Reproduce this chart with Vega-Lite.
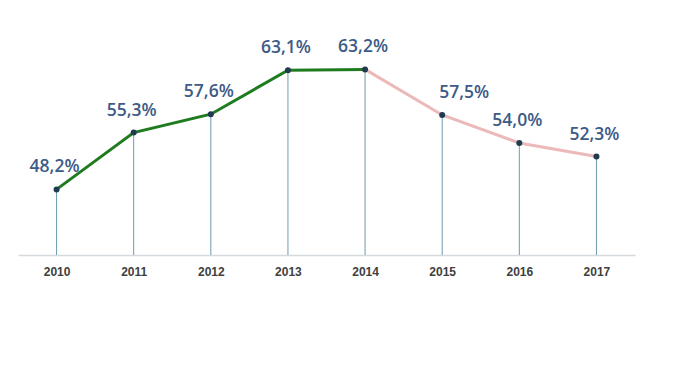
{
  "$schema": "https://vega.github.io/schema/vega-lite/v6.json",
  "autosize": "none",
  "width": 617,
  "height": 255,
  "padding": {"left": 18, "top": 0, "right": 65, "bottom": 129},
  "background": "white",
  "config": {
    "view": {"stroke": null},
    "locale": {"number": {"decimal": ",", "thousands": ".", "grouping": [3], "currency": ["", " €"]}}
  },
  "datasets": {
    "points": [
      {"year": "2010", "rate": 0.482},
      {"year": "2011", "rate": 0.553},
      {"year": "2012", "rate": 0.576},
      {"year": "2013", "rate": 0.631},
      {"year": "2014", "rate": 0.632},
      {"year": "2015", "rate": 0.575},
      {"year": "2016", "rate": 0.540},
      {"year": "2017", "rate": 0.523}
    ],
    "lines": [
      {"year": "2010", "rate": 0.482, "series": "actual"},
      {"year": "2011", "rate": 0.553, "series": "actual"},
      {"year": "2012", "rate": 0.576, "series": "actual"},
      {"year": "2013", "rate": 0.631, "series": "actual"},
      {"year": "2014", "rate": 0.632, "series": "actual"},
      {"year": "2014", "rate": 0.632, "series": "forecast"},
      {"year": "2015", "rate": 0.575, "series": "forecast"},
      {"year": "2016", "rate": 0.540, "series": "forecast"},
      {"year": "2017", "rate": 0.523, "series": "forecast"}
    ]
  },
  "encoding": {
    "x": {
      "field": "year", "type": "ordinal",
      "scale": {"type": "point", "padding": 0.5},
      "axis": {
        "title": null, "labelAngle": 0, "ticks": false, "grid": false,
        "domainColor": "#d4d9dd", "domainWidth": 1.5,
        "labelFont": "Liberation Sans", "labelFontWeight": "bold", "labelFontSize": 12,
        "labelColor": "#404040", "labelPadding": 11
      }
    },
    "y": {
      "field": "rate", "type": "quantitative",
      "scale": {"domain": [0.40, 0.71875], "nice": false, "zero": false},
      "axis": null
    }
  },
  "layer": [
    {
      "data": {"name": "points"},
      "mark": {"type": "rule", "color": "#6d9bb0", "strokeWidth": 1},
      "encoding": {"y2": {"datum": 0.40}}
    },
    {
      "data": {"name": "lines"},
      "mark": {"type": "line", "strokeWidth": 3, "strokeCap": "round"},
      "encoding": {
        "detail": {"field": "series"},
        "color": {
          "field": "series", "type": "nominal",
          "scale": {"domain": ["actual", "forecast"], "range": ["#1e7b1e", "#ebb9b9"]},
          "legend": null
        }
      }
    },
    {
      "data": {"name": "points"},
      "mark": {"type": "circle", "size": 36, "color": "#1f3b4f", "opacity": 1}
    },
    {
      "data": {"name": "points"},
      "transform": [{"filter": "datum.year != '2015'"}],
      "mark": {"type": "text", "dy": -22, "dx": -2, "font": "Open Sans", "fontWeight": 600, "fontSize": 17.5, "color": "#3d5b86"},
      "encoding": {"text": {"field": "rate", "type": "quantitative", "format": ".1%"}}
    },
    {
      "data": {"name": "points"},
      "transform": [{"filter": "datum.year == '2015'"}],
      "mark": {"type": "text", "dy": -22, "dx": 22, "font": "Open Sans", "fontWeight": 600, "fontSize": 17.5, "color": "#3d5b86"},
      "encoding": {"text": {"field": "rate", "type": "quantitative", "format": ".1%"}}
    }
  ]
}
